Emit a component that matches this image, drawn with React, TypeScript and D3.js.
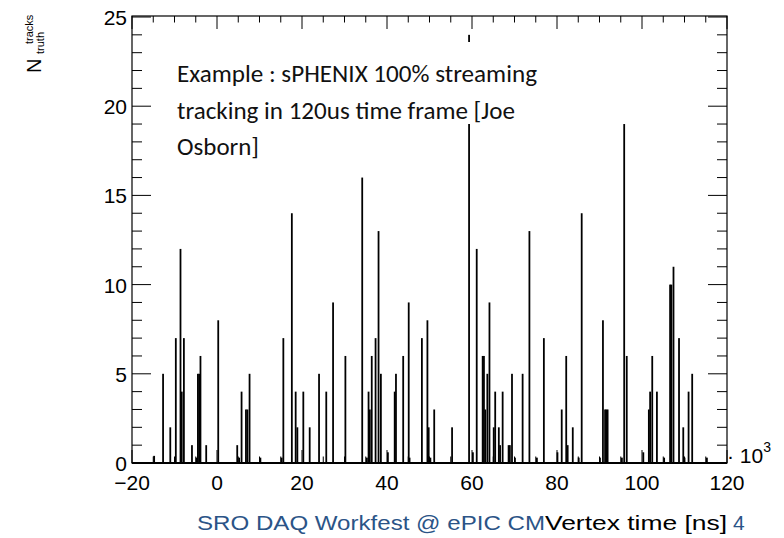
import React from 'react';
import * as d3 from 'd3';

// vertex time (x10^3 ns) of each filled bin, and the number of truth tracks in it
const vertexTimes = [
  -15.0, -12.9, -11.2, -9.9, -8.8, -8.5, -8.0, -6.1, -5.0, -4.7, -4.4, -4.1, -2.75, 0.08,
  4.55, 5.0, 5.57, 6.6, 6.95, 7.45, 10.0, 15.0, 15.4, 17.4, 18.3, 18.7, 20.1, 21.6, 23.8,
  25.5, 27.1, 30.0, 33.96, 35.06, 35.45, 35.75, 36.2, 37.1, 37.8, 38.35, 40.0, 41.6, 41.9,
  43.6, 44.9, 45.1, 48.0, 49.3, 49.6, 50.0, 50.9, 55.1, 59.1, 60.0, 60.9, 62.3, 62.6, 62.9,
  63.4, 63.9, 64.9, 65.25, 66.1, 66.4, 67.0, 68.4, 68.7, 69.2, 69.9, 71.7, 73.3, 75.06,
  76.7, 79.9, 80.9, 81.96, 82.3, 83.5, 84.9, 85.6, 89.9, 90.6, 91.1, 91.4, 91.7, 95.06,
  95.6, 96.2, 100.1, 101.4, 101.7, 102.2, 103.3, 105.0, 106.4, 106.7, 107.2, 108.5, 109.5,
  109.8, 110.75, 111.6, 115.06,
];
const trackCounts = [
  0.4, 5, 2, 7, 12, 4, 7, 1, 0.3, 5, 5, 6, 1, 8,
  1, 0.3, 4, 3, 3, 5, 0.3, 0.3, 7, 14, 4, 2, 4, 2, 5,
  4, 9, 6, 16, 0.3, 4, 3, 6, 7, 13, 5, 0.6, 4, 5,
  6, 9, 0.3, 7, 8, 2, 0.3, 3, 2, 24, 0.6, 12, 6, 6, 3,
  5, 9, 2, 4, 2, 1, 4, 1, 1, 5, 0.3, 5, 13, 0.3,
  7, 0.6, 3, 6, 1, 2, 0.3, 14, 0.3, 8, 3, 3, 3, 0.3,
  19, 6, 0.6, 3, 4, 6, 4, 0.3, 10, 10, 11, 7, 2,
  0.3, 4, 5, 0.3,
];
const xTickLabels = [-20, 0, 20, 40, 60, 80, 100, 120];
const yTickLabels = [0, 5, 10, 15, 20, 25];
const noteLines = [
  'Example : sPHENIX 100% streaming',
  'tracking in 120us time frame [Joe',
  'Osborn]',
];

const binWidth = 0.42;
const W = 784;
const H = 538;
const left = 132, right = 727, top = 17, bottom = 463;
const axisFont = '"Liberation Sans", Arial, Helvetica, sans-serif';
const navy = '#2b5487';

export default function App() {
  const x = d3.scaleLinear().domain([-20, 120]).range([left, right]);
  const y = d3.scaleLinear().domain([0, 25]).range([bottom, top]);

  const bars = vertexTimes.map((t, i) => ({ t, n: trackCounts[i] }));
  const xMinor = d3.range(-20, 120.01, 5);
  const yMinor = d3.range(0, 25.01, 1);
  const noteWidths = [360, 338, 82];

  return (
    <svg width={W} height={H} style={{ position: 'absolute', left: 0, top: 0, background: '#fff' }}>
      {/* histogram bins */}
      {bars.map((d, i) => (
        <rect
          key={i}
          x={x(d.t)}
          width={x(d.t + binWidth) - x(d.t)}
          y={y(d.n)}
          height={y(0) - y(d.n)}
          fill="#000"
        />
      ))}

      {/* pasted text box, white background hides part of the tall bin */}
      <rect x={165} y={42} width={395} height={82} fill="#fff" />
      {noteLines.map((s, i) => (
        <text
          key={s}
          x={177}
          y={82 + i * 36.5}
          fontFamily='Carlito, Calibri, Lato, sans-serif'
          fontSize={25}
          fill="#111"
          textLength={noteWidths[i]}
          lengthAdjust="spacingAndGlyphs"
        >
          {s}
        </text>
      ))}

      {/* frame */}
      <rect x={left} y={top - 1} width={right - left} height={bottom - top + 1} fill="none" stroke="#000" strokeWidth={1.2} />
      <line x1={left} x2={right} y1={bottom} y2={bottom} stroke="#000" strokeWidth={2} />

      {/* x ticks, bottom and top */}
      {xMinor.map((v) => {
        const major = v % 20 === 0;
        const len = major ? 13 : 6.5;
        return (
          <g key={'xt' + v}>
            <line x1={x(v)} x2={x(v)} y1={bottom} y2={bottom - len} stroke="#000" />
            <line x1={x(v)} x2={x(v)} y1={top - 1} y2={top - 1 + len} stroke="#000" />
          </g>
        );
      })}
      {/* y ticks, left and right */}
      {yMinor.map((v) => {
        const major = v % 5 === 0;
        const len = major ? 19 : 10;
        return (
          <g key={'yt' + v}>
            <line x1={left} x2={left + len} y1={y(v)} y2={y(v)} stroke="#000" />
            <line x1={right} x2={right - len} y1={y(v)} y2={y(v)} stroke="#000" />
          </g>
        );
      })}

      {xTickLabels.map((v) => (
        <text key={'xl' + v} x={x(v)} y={490} textAnchor="middle" fontFamily={axisFont} fontSize={21}>
          {v < 0 ? '\u2212' + Math.abs(v) : v}
        </text>
      ))}
      {yTickLabels.map((v) => (
        <text key={'yl' + v} x={127} y={y(v) + 8} textAnchor="end" fontFamily={axisFont} fontSize={21}>
          {v}
        </text>
      ))}

      {/* x10^3 multiplier */}
      <text x={727} y={463} fontFamily={axisFont} fontSize={21}>
        {'\u00b7 10'}
        <tspan fontSize={14} dy={-11}>3</tspan>
      </text>

      {/* y title N^tracks_truth */}
      <g transform="rotate(-90)" fontFamily={axisFont}>
        <text x={-73} y={41} fontSize={20}>N</text>
        <text x={-44} y={33} fontSize={11}>tracks</text>
        <text x={-54} y={44} fontSize={11}>truth</text>
      </g>

      {/* footer + x title */}
      <text x={197} y={530} fontFamily={axisFont} fontSize={21} fill={navy} textLength={348} lengthAdjust="spacingAndGlyphs">
        SRO DAQ Workfest @ ePIC CM
      </text>
      <text x={right} y={530} textAnchor="end" fontFamily={axisFont} fontSize={21} textLength={182} lengthAdjust="spacingAndGlyphs">
        Vertex time [ns]
      </text>
      <text x={733} y={530} fontFamily={axisFont} fontSize={21} fill={navy}>4</text>
    </svg>
  );
}
